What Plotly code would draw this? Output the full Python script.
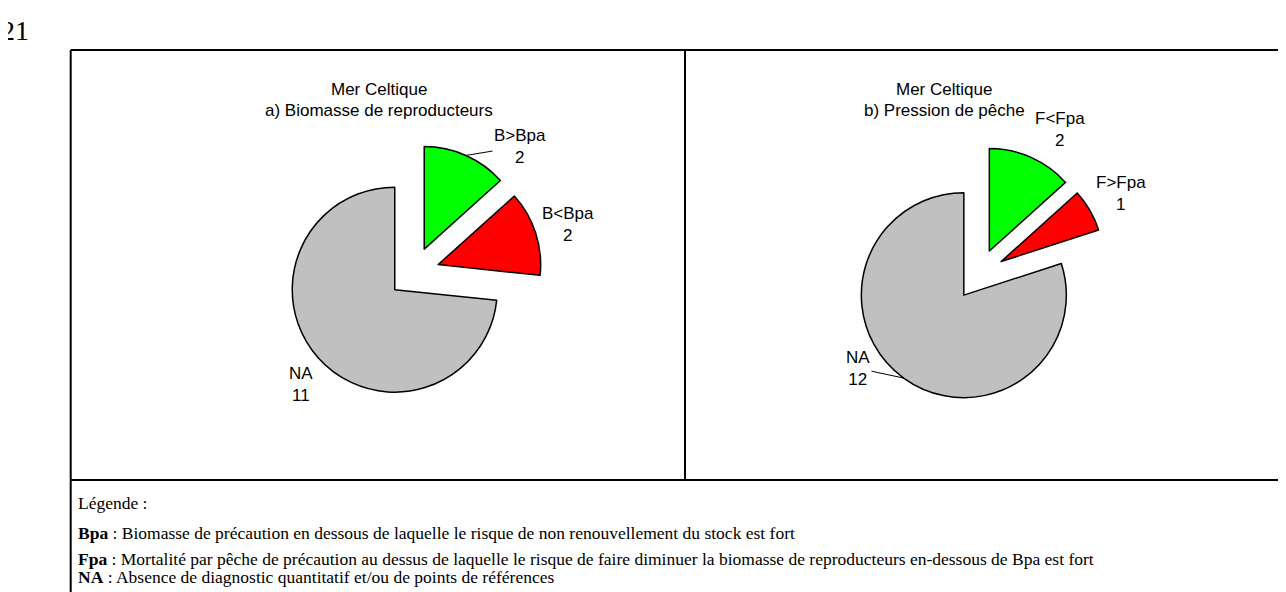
import math
import plotly.graph_objects as go

# ---- data ----
left_labels = ["B>Bpa", "B<Bpa", "NA"]
left_values = [2, 2, 11]
right_labels = ["F<Fpa", "F>Fpa", "NA"]
right_values = [2, 1, 12]
slice_colors = ["#00FF00", "#FF0000", "#C0C0C0"]

left_title = ["Mer Celtique", "a) Biomasse de reproducteurs"]
right_title = ["Mer Celtique", "b) Pression de pêche"]

legend_head = "Légende :"
legend_lines = [
    ("Bpa", "Biomasse de précaution en dessous de laquelle le risque de non renouvellement du stock est fort"),
    ("Fpa", "Mortalité par pêche de précaution au dessus de laquelle le risque de faire diminuer la biomasse de reproducteurs en-dessous de Bpa est fort"),
    ("NA", "Absence de diagnostic quantitatif et/ou de points de références"),
]
page_number = "21"

# ---- layout (pixels) ----
W, H = 1286, 592
def px(x):
    return x / W
def py(y):
    return 1 - y / H

R = 102.5
PULL = 0.25
HALF = R * (1 + PULL)

def dom(cx, cy):
    return dict(x=[px(cx - HALF), px(cx + HALF)], y=[py(cy + HALF), py(cy - HALF)])

LBL_FONT = dict(family="Liberation Sans, Arial", size=17, color="black")

pies = [
    dict(labels=left_labels, values=left_values, center=(405.8, 264.5),
         label_pos=[(512, 138.5), (560, 216), (293, 376.5)], leader=[True, False, False]),
    dict(labels=right_labels, values=right_values, center=(970.9, 266.4),
         label_pos=[(1052, 121.5), (1112.7, 185.7), (850, 360.3)], leader=[False, False, True]),
]

fig = go.Figure()
ann = []
for p in pies:
    cx, cy = p["center"]
    fig.add_trace(go.Pie(
        labels=p["labels"], values=p["values"], sort=False, direction="clockwise", rotation=0,
        pull=[PULL] * len(p["values"]),
        marker=dict(colors=slice_colors, line=dict(color="black", width=1.5)),
        textinfo="none", domain=dom(cx, cy), showlegend=False, hoverinfo="label+value",
    ))
    total = sum(p["values"])
    cum = 0
    for lab, v, (lx, ly), lead in zip(p["labels"], p["values"], p["label_pos"], p["leader"]):
        theta = math.radians(360 * (cum + v / 2) / total)
        cum += v
        ex = cx + R * (1 + PULL) * math.sin(theta)
        ey = cy - R * (1 + PULL) * math.cos(theta)
        text = f"{lab}<br>{v}"
        if lead:
            ann.append(dict(text=text, x=px(ex), y=py(ey), xref="paper", yref="paper",
                            ax=lx - ex, ay=ly - ey, showarrow=True, arrowhead=0,
                            arrowwidth=1, arrowcolor="black", standoff=0, font=LBL_FONT))
        else:
            ann.append(dict(text=text, x=px(lx), y=py(ly), xref="paper", yref="paper",
                            xanchor="center", yanchor="middle", showarrow=False, font=LBL_FONT))

for lines, cx in [(left_title, 370.7), (right_title, 936)]:
    for i, t in enumerate(lines):
        ann.append(dict(text=t, x=px(cx), y=py(82 + 20.5 * i), xref="paper", yref="paper",
                        xanchor="center", yanchor="middle", showarrow=False, font=LBL_FONT))

SERIF = dict(family="Liberation Serif, Times New Roman", size=17.5, color="black")
ann.append(dict(text=legend_head, x=px(68), y=py(495), xref="paper", yref="paper",
                xanchor="left", yanchor="middle", showarrow=False, font=SERIF))
for (k, t), yy in zip(legend_lines, [525, 551, 569]):
    ann.append(dict(text=f"<b>{k}</b> : {t}", x=px(68), y=py(yy), xref="paper", yref="paper",
                    xanchor="left", yanchor="middle", showarrow=False, font=SERIF))
ann.append(dict(text=page_number, x=px(23), y=py(23), xref="paper", yref="paper",
                xanchor="right", yanchor="middle", showarrow=False,
                font=dict(family="Liberation Serif, Times New Roman", size=28, color="black")))

LINE = dict(color="black", width=2)
shapes = []
for x0, y0, x1, y1 in [(62.7, 42, 1282, 42), (62.7, 42, 62.7, 600), (1282, 42, 1282, 600),
                       (677, 42, 677, 472), (62.7, 472, 1282, 472)]:
    shapes.append(dict(type="line", xref="paper", yref="paper", x0=px(x0), y0=py(y0),
                       x1=px(x1), y1=py(y1), line=LINE))

fig.update_layout(width=W, height=H, margin=dict(l=0, r=0, t=0, b=0),
                  paper_bgcolor="white", plot_bgcolor="white",
                  annotations=ann, shapes=shapes)
fig.write_html("out.html")
